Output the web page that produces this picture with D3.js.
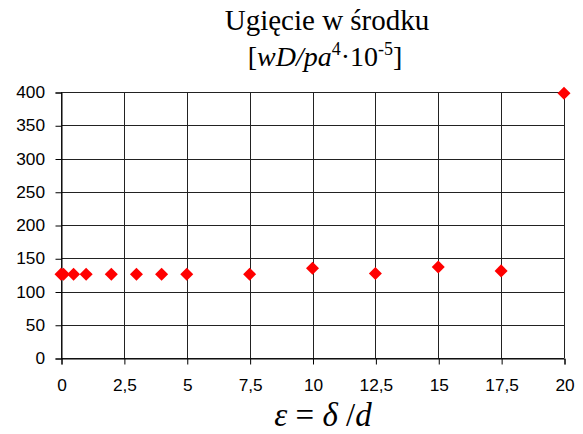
<!DOCTYPE html>
<html><head><meta charset="utf-8">
<script src="https://cdn.jsdelivr.net/npm/d3@7"></script>
<style>body{margin:0;background:#fff}svg{display:block}</style>
</head><body>
<script>
const xValues = [0, 0.1, 0.5, 1, 2, 3, 4, 5, 7.5, 10, 12.5, 15, 17.5, 20];
const yValues = [126, 126, 126, 126, 126, 126, 126, 126, 126, 135, 127, 137, 131, 398];
const xTicks = [0, 2.5, 5, 7.5, 10, 12.5, 15, 17.5, 20];
const yTicks = [0, 50, 100, 150, 200, 250, 300, 350, 400];

const W = 583, H = 434;
const svg = d3.select("body").append("svg").attr("width", W).attr("height", H);
const x = d3.scaleLinear().domain([0, 20]).range([61, 564]);
const y = d3.scaleLinear().domain([0, 400]).range([358, 92]);
const fmt = d => String(d).replace(".", ",");

// gridlines
svg.append("g").selectAll("line").data(yTicks).join("line")
  .attr("x1", 61).attr("x2", 564)
  .attr("y1", d => Math.round(y(d)) + 0.5).attr("y2", d => Math.round(y(d)) + 0.5)
  .attr("stroke", "#222").attr("stroke-width", 1);
svg.append("g").selectAll("line").data(xTicks).join("line")
  .attr("y1", 92).attr("y2", 358)
  .attr("x1", d => Math.round(x(d)) + 0.5).attr("x2", d => Math.round(x(d)) + 0.5)
  .attr("stroke", "#222").attr("stroke-width", 1);

// axes
const sx = 1.08;
const yAxis = svg.append("g").attr("transform", "translate(61.5,0.5)")
  .call(d3.axisLeft(y).tickValues(yTicks).tickSize(6).tickPadding(10.5).tickFormat(fmt));
const xAxis = svg.append("g").attr("transform", "translate(0.5,358.5)")
  .call(d3.axisBottom(x).tickValues(xTicks).tickSize(6).tickPadding(15).tickFormat(fmt));
[yAxis, xAxis].forEach(a => {
  a.select(".domain").attr("stroke", "#000");
  a.selectAll(".tick line").attr("stroke", "#000");
  a.selectAll("text").attr("font-family", "Liberation Sans, Arial, sans-serif")
    .attr("font-size", 16).attr("fill", "#000")
    .attr("transform", `scale(${sx},1)`);
});
yAxis.selectAll("text").attr("x", -16.5 / sx);

// points
svg.append("g").selectAll("path").data(xValues.map((v, i) => [v, yValues[i]])).join("path")
  .attr("d", d3.symbol().type(d3.symbolSquare).size(85))
  .attr("transform", d => `translate(${x(d[0])},${y(d[1])}) rotate(45)`)
  .attr("fill", "#ff0000");

// title
const tf = "Liberation Serif, Times New Roman, serif";
svg.append("text").attr("x", 327).attr("y", 30).attr("text-anchor", "middle")
  .attr("font-family", tf).attr("font-size", 29).text("Ugięcie w środku");
const t2 = svg.append("text").attr("x", 325).attr("y", 66).attr("text-anchor", "middle")
  .attr("font-family", tf).attr("font-size", 28);
t2.append("tspan").text("[");
t2.append("tspan").attr("font-style", "italic").text("wD/pa");
t2.append("tspan").attr("font-size", 18).attr("dy", -11).text("4");
t2.append("tspan").attr("dy", 11).text("·10");
t2.append("tspan").attr("font-size", 18).attr("dy", -11).text("-5");
t2.append("tspan").attr("dy", 11).text("]");

// x label
const xl = svg.append("text").attr("x", 323).attr("y", 426).attr("text-anchor", "middle")
  .attr("font-family", tf).attr("font-size", 33);
xl.append("tspan").attr("font-style", "italic").text("ε");
xl.append("tspan").text(" = ");
xl.append("tspan").attr("font-style", "italic").text("δ");
xl.append("tspan").text(" /");
xl.append("tspan").attr("font-style", "italic").text("d");
</script>
</body></html>
